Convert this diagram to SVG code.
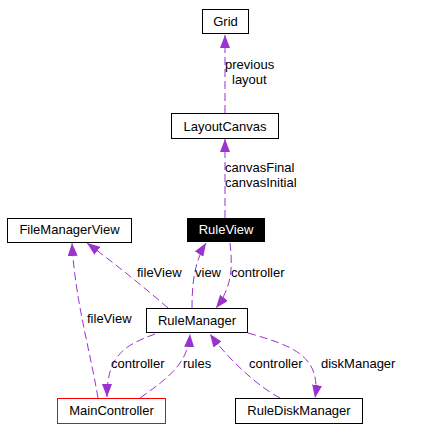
<svg xmlns="http://www.w3.org/2000/svg" width="428" height="431" viewBox="0 0 428 431">
<style>
.box{fill:#fff;stroke:#000;stroke-width:1}
.t{font-family:"Liberation Sans",Arial,sans-serif;font-size:13px;fill:#000}
.c{text-anchor:middle}
.e{fill:none;stroke:#9a32cd;stroke-width:1;stroke-dasharray:8,4;marker-end:url(#ah)}
</style>
<defs>
<marker id="ah" viewBox="0 0 13 10" refX="13" refY="5" markerWidth="13" markerHeight="10" markerUnits="userSpaceOnUse" orient="auto">
<path d="M0,0 L13,5 L0,10 z" fill="#9a32cd" stroke="none"/>
</marker>
</defs>
<rect width="428" height="431" fill="#fff"/>
<g id="connectors">
<path class="e" d="M225,113 L225,35"/>
<path class="e" d="M225,218 L225,139"/>
<path class="e" d="M168,308 Q130,275 87,243"/>
<path class="e" d="M192,308 C192,285 194,262 206,243"/>
<path class="e" d="M230,243 C232,262 234,285 216,308"/>
<path class="e" d="M98,398 C90,350 75,300 72,243"/>
<path class="e" d="M155,334 C125,345 107,355 107,397"/>
<path class="e" d="M140,398 C165,380 188,365 190,334"/>
<path class="e" d="M280,398 C255,385 225,355 210,334"/>
<path class="e" d="M248,333 C290,345 322,355 315,398"/>
<text class="t" x="225" y="69">previous</text>
<text class="t" x="232" y="84">layout</text>
<text class="t" x="225" y="172">canvasFinal</text>
<text class="t" x="225" y="187">canvasInitial</text>
<text class="t" x="137" y="277">fileView</text>
<text class="t" x="195" y="277">view</text>
<text class="t" x="231" y="277">controller</text>
<text class="t" x="87" y="323">fileView</text>
<text class="t" x="111" y="368">controller</text>
<text class="t" x="183" y="368">rules</text>
<text class="t" x="249" y="368">controller</text>
<text class="t" x="321" y="368">diskManager</text>
</g>
<g id="Grid">
<rect class="box" x="202.5" y="9.5" width="46" height="24"/>
<text class="t c" x="225.5" y="26">Grid</text>
</g>
<g id="LayoutCanvas">
<rect class="box" x="171.5" y="113.5" width="107" height="25"/>
<text class="t c" x="225" y="131">LayoutCanvas</text>
</g>
<g id="RuleView">
<rect x="187" y="218" width="78" height="24" fill="#000"/>
<text class="t c" x="226" y="234" style="fill:#fff">RuleView</text>
</g>
<g id="FileManagerView">
<rect class="box" x="7.5" y="218.5" width="124" height="24"/>
<text class="t c" x="69.5" y="234">FileManagerView</text>
</g>
<g id="RuleManager">
<rect class="box" x="146.5" y="308.5" width="101" height="24"/>
<text class="t c" x="197" y="325">RuleManager</text>
</g>
<g id="MainController">
<rect class="box" x="57.5" y="398.5" width="108" height="25" style="stroke:#ff0000"/>
<text class="t c" x="111.5" y="415">MainController</text>
</g>
<g id="RuleDiskManager">
<rect class="box" x="235.5" y="398.5" width="127" height="25"/>
<text class="t c" x="299" y="415">RuleDiskManager</text>
</g>
</svg>
